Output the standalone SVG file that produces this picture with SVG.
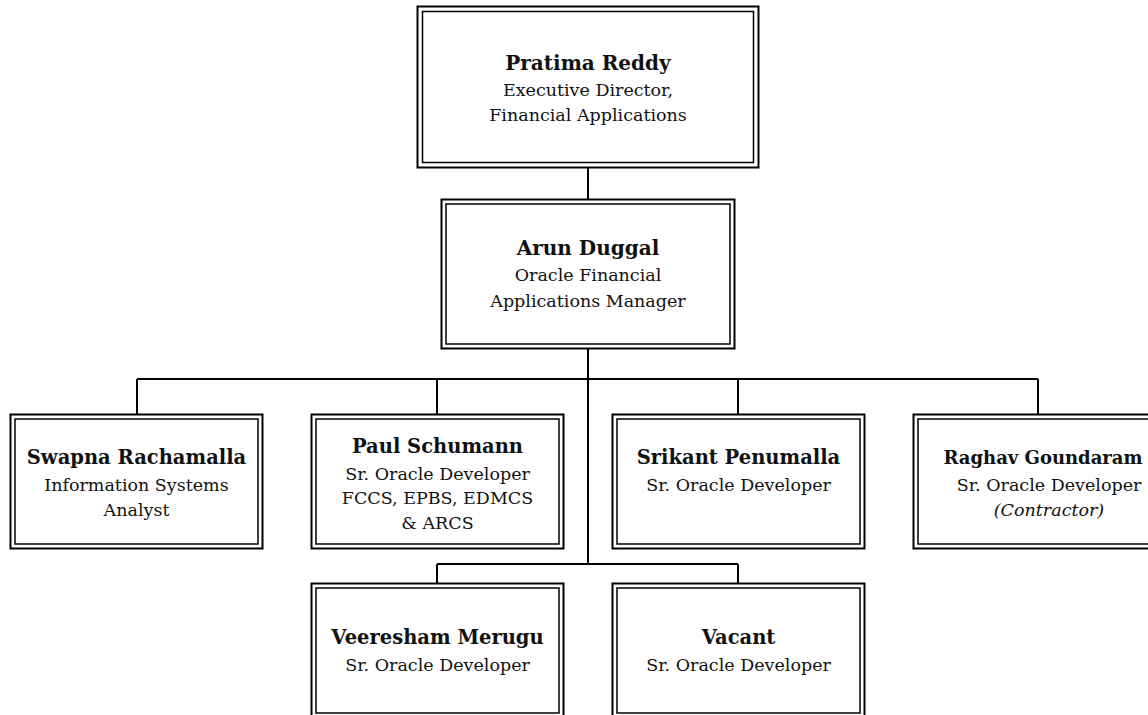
<svg xmlns="http://www.w3.org/2000/svg" width="1148" height="715" viewBox="0 0 1148 715">
<style>
.o{fill:#fff;stroke:#000;stroke-width:2}
.i{fill:none;stroke:#000;stroke-width:1.5}
.c{fill:none;stroke:#000;stroke-width:2}
text{font-family:"DejaVu Serif","Liberation Serif",serif;fill:#111;text-anchor:middle}
.n{font-weight:bold;font-size:19.5px}
.t{font-size:17.5px}
.it{font-style:italic}
</style>
<rect width="1148" height="715" fill="#fff"/>
<g id="connectors">
<path class="c" d="M588 168V199M588 349V564M137 379H1038M137 379V414M437 379V414M738 379V414M1038 379V414M437 564H738M437 564V583M738 564V583"/>
</g>
<g id="pratima">
<rect class="o" x="417.5" y="6.5" width="341" height="161"/>
<rect class="i" x="422.5" y="11.5" width="331" height="151"/>
<text class="n" x="588" y="70" style="font-size:20px">Pratima Reddy</text>
<text class="t" x="588" y="95.5">Executive Director,</text>
<text class="t" x="588" y="120.5">Financial Applications</text>
</g>
<g id="arun">
<rect class="o" x="441.5" y="199.5" width="293" height="149"/>
<rect class="i" x="446" y="204" width="284" height="140"/>
<text class="n" x="588" y="255" style="font-size:20px">Arun Duggal</text>
<text class="t" x="588" y="281">Oracle Financial</text>
<text class="t" x="588" y="306.5">Applications Manager</text>
</g>
<g id="swapna">
<rect class="o" x="10.5" y="414.5" width="252" height="134"/>
<rect class="i" x="15" y="419" width="243" height="125"/>
<text class="n" x="136.5" y="464">Swapna Rachamalla</text>
<text class="t" x="136.5" y="490.5">Information Systems</text>
<text class="t" x="136.5" y="516">Analyst</text>
</g>
<g id="paul">
<rect class="o" x="311.5" y="414.5" width="252" height="134"/>
<rect class="i" x="316" y="419" width="243" height="125"/>
<text class="n" x="437.5" y="453">Paul Schumann</text>
<text class="t" x="437.5" y="479.5">Sr. Oracle Developer</text>
<text class="t" x="437.5" y="504">FCCS, EPBS, EDMCS</text>
<text class="t" x="437.5" y="528.5">&amp; ARCS</text>
</g>
<g id="srikant">
<rect class="o" x="612.5" y="414.5" width="252" height="134"/>
<rect class="i" x="617" y="419" width="243" height="125"/>
<text class="n" x="738.5" y="464">Srikant Penumalla</text>
<text class="t" x="738.5" y="490.5">Sr. Oracle Developer</text>
</g>
<g id="raghav">
<rect class="o" x="913.5" y="414.5" width="270" height="134"/>
<rect class="i" x="918" y="419" width="261" height="125"/>
<text class="n" x="1043" y="464" style="font-size:18px">Raghav Goundaram</text>
<text class="t" x="1049" y="490.5">Sr. Oracle Developer</text>
<text class="t it" x="1049" y="516">(Contractor)</text>
</g>
<g id="veeresham">
<rect class="o" x="311.5" y="583.5" width="252" height="134"/>
<rect class="i" x="316" y="588" width="243" height="125"/>
<text class="n" x="437.5" y="644">Veeresham Merugu</text>
<text class="t" x="437.5" y="671">Sr. Oracle Developer</text>
</g>
<g id="vacant">
<rect class="o" x="612.5" y="583.5" width="252" height="134"/>
<rect class="i" x="617" y="588" width="243" height="125"/>
<text class="n" x="738.5" y="644">Vacant</text>
<text class="t" x="738.5" y="671">Sr. Oracle Developer</text>
</g>
</svg>
